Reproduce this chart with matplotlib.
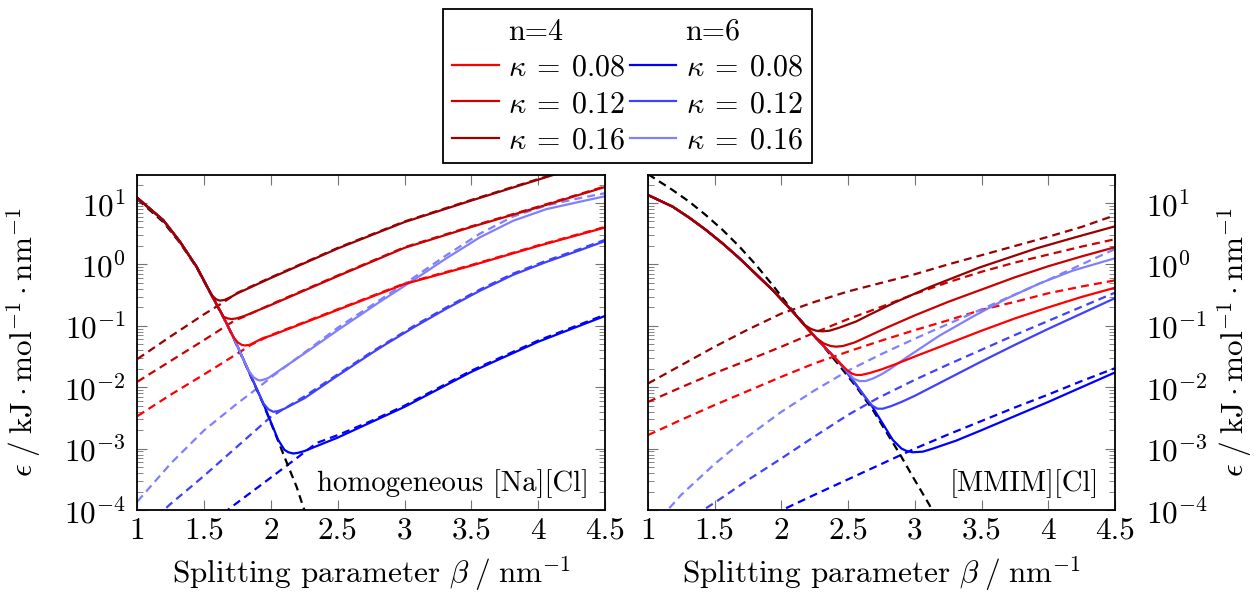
import numpy as np
import matplotlib
matplotlib.use("Agg")
import matplotlib.pyplot as plt
from matplotlib.lines import Line2D

plt.rcParams['font.family'] = 'cmr10'
plt.rcParams['mathtext.fontset'] = 'cm'
plt.rcParams['axes.formatter.use_mathtext'] = True
plt.rcParams['font.size'] = 22.5

# colours: n=4 reds, n=6 blues (kappa = 0.08, 0.12, 0.16)
c_r08, c_r12, c_r16 = '#ff0000', '#cc0000', '#990000'
c_b08, c_b12, c_b16 = '#0000ff', '#4040ff', '#8080ff'

# ---------------- homogeneous [Na][Cl] (log10 of epsilon) ----------------
na_real_b = [1.0, 1.193, 1.318, 1.443, 1.555, 1.642, 1.717, 1.829, 1.941, 2.054, 2.116, 2.191, 2.241, 2.30]
na_real_lg = [1.06, 0.69, 0.35, -0.05, -0.51, -0.86, -1.19, -1.73, -2.27, -2.88, -3.22, -3.62, -3.95, -4.3]

# dashed estimates
na_r16_est_b = [1.0, 1.25, 1.5, 1.642, 1.75, 2.0, 2.5, 3.0, 3.5, 4.0, 4.5]
na_r16_est_lg = [-1.54, -1.17, -0.81, -0.62, -0.46, -0.21, 0.27, 0.70, 1.05, 1.39, 1.72]
na_r12_est_b = [1.0, 1.25, 1.5, 1.73, 1.8, 2.0, 2.5, 3.0, 3.5, 4.0, 4.5]
na_r12_est_lg = [-1.91, -1.57, -1.23, -0.91, -0.85, -0.65, -0.18, 0.28, 0.62, 0.94, 1.27]
na_r08_est_b = [1.0, 1.25, 1.5, 1.75, 1.85, 2.0, 2.5, 3.0, 3.5, 4.0, 4.5]
na_r08_est_lg = [-2.47, -2.12, -1.79, -1.45, -1.31, -1.15, -0.73, -0.31, -0.01, 0.31, 0.61]
na_b16_est_b = [1.0, 1.25, 1.5, 1.75, 1.92, 2.0, 2.5, 2.814, 3.064, 3.313, 3.563, 3.812, 4.061, 4.311, 4.5]
na_b16_est_lg = [-3.86, -3.24, -2.70, -2.26, -1.98, -1.84, -1.03, -0.58, -0.22, 0.15, 0.50, 0.78, 0.96, 1.08, 1.16]
na_b12_est_b = [1.0, 1.243, 1.5, 1.75, 2.0, 2.25, 2.5, 2.75, 3.064, 3.313, 3.563, 3.812, 4.061, 4.311, 4.5]
na_b12_est_lg = [-4.4, -3.91, -3.44, -2.96, -2.48, -2.15, -1.79, -1.43, -1.01, -0.70, -0.41, -0.15, 0.06, 0.25, 0.40]
na_b08_est_b = [1.5, 1.692, 2.0, 2.25, 2.34, 2.5, 2.75, 3.0, 3.5, 4.0, 4.5]
na_b08_est_lg = [-4.35, -3.97, -3.47, -3.06, -2.91, -2.78, -2.55, -2.30, -1.73, -1.24, -0.82]

# solid totals
na_r16_b = [1.0, 1.193, 1.318, 1.443, 1.52, 1.56, 1.59, 1.617, 1.65, 1.70, 1.75, 2.0, 2.5, 3.0, 3.5, 4.0, 4.5]
na_r16_lg = [1.08, 0.72, 0.37, -0.04, -0.36, -0.51, -0.57, -0.59, -0.58, -0.53, -0.47, -0.22, 0.26, 0.69, 1.04, 1.38, 1.72]
na_r12_b = [1.0, 1.193, 1.318, 1.443, 1.555, 1.642, 1.675, 1.705, 1.74, 1.80, 2.0, 2.5, 3.0, 3.5, 4.0, 4.5]
na_r12_lg = [1.08, 0.72, 0.37, -0.04, -0.50, -0.85, -0.88, -0.89, -0.88, -0.84, -0.66, -0.19, 0.27, 0.61, 0.93, 1.26]
na_r08_b = [1.0, 1.193, 1.318, 1.443, 1.555, 1.642, 1.717, 1.75, 1.78, 1.804, 1.84, 1.94, 2.0, 2.5, 3.0, 3.5, 4.0, 4.5]
na_r08_lg = [1.08, 0.72, 0.37, -0.04, -0.50, -0.85, -1.18, -1.27, -1.31, -1.32, -1.31, -1.20, -1.16, -0.74, -0.32, -0.02, 0.30, 0.60]
na_b16_b = [1.0, 1.193, 1.318, 1.443, 1.555, 1.642, 1.717, 1.829, 1.87, 1.90, 1.917, 1.94, 1.98, 2.0, 2.25, 2.5,
            2.814, 3.064, 3.313, 3.563, 3.812, 4.061, 4.311, 4.5]
na_b16_lg = [1.08, 0.72, 0.37, -0.04, -0.50, -0.85, -1.18, -1.72, -1.84, -1.88, -1.89, -1.88, -1.85, -1.82, -1.45, -1.07,
             -0.61, -0.26, 0.10, 0.44, 0.71, 0.90, 1.02, 1.11]
na_b12_b = [1.0, 1.193, 1.318, 1.443, 1.555, 1.642, 1.717, 1.829, 1.941, 1.98, 2.016, 2.05, 2.10, 2.25, 2.5, 2.75,
            2.852, 3.064, 3.313, 3.563, 3.812, 4.061, 4.311, 4.5]
na_b12_lg = [1.08, 0.72, 0.37, -0.04, -0.50, -0.85, -1.18, -1.72, -2.26, -2.36, -2.40, -2.39, -2.35, -2.18, -1.81, -1.45,
             -1.31, -1.03, -0.72, -0.43, -0.17, 0.04, 0.23, 0.38]
na_b08_b = [1.0, 1.193, 1.318, 1.443, 1.555, 1.642, 1.717, 1.829, 1.941, 2.054, 2.10, 2.13, 2.166, 2.20, 2.25, 2.5,
            2.75, 3.0, 3.5, 4.0, 4.5]
na_b08_lg = [1.08, 0.72, 0.37, -0.04, -0.50, -0.85, -1.18, -1.72, -2.26, -2.86, -3.02, -3.06, -3.08, -3.07, -3.04, -2.82,
             -2.57, -2.32, -1.75, -1.26, -0.84]

# ---------------- [MMIM][Cl] ----------------
mm_real_b = [1.0, 1.185, 1.31, 1.435, 1.56, 1.685, 1.81, 1.935, 2.06, 2.185, 2.2975, 2.435, 2.56, 2.685, 2.80,
             2.885, 2.985, 3.11, 3.15]
mm_real_lg = [1.47, 1.21, 1.02, 0.80, 0.56, 0.29, -0.01, -0.34, -0.69, -1.01, -1.29, -1.65, -1.99, -2.37, -2.78,
              -3.08, -3.46, -3.92, -4.1]

grid_b = [1.0, 1.25, 1.5, 1.75, 2.0, 2.25, 2.5, 2.75, 3.0, 3.25, 3.5, 3.75, 4.0, 4.25, 4.5]
mm_r16_est_lg = [-1.94, -1.64, -1.34, -1.06, -0.80, -0.61, -0.44, -0.30, -0.16, 0.00, 0.15, 0.30, 0.45, 0.61, 0.80]
mm_r12_est_lg = [-2.24, -2.00, -1.77, -1.56, -1.34, -1.11, -0.89, -0.69, -0.48, -0.29, -0.12, 0.03, 0.16, 0.29, 0.41]
mm_r08_est_lg = [-2.78, -2.53, -2.29, -2.06, -1.83, -1.61, -1.42, -1.24, -1.07, -0.91, -0.74, -0.61, -0.47, -0.36, -0.26]
mm_b16_est_b = [1.16, 1.25, 1.5, 1.75, 2.0, 2.25, 2.5, 2.75, 3.0, 3.25, 3.5, 3.75, 4.0, 4.25, 4.5]
mm_b16_est_lg = [-3.97, -3.75, -3.25, -2.80, -2.40, -2.05, -1.73, -1.46, -1.21, -0.97, -0.73, -0.49, -0.25, 0.00, 0.25]
mm_b12_est_b = [1.435, 1.5, 1.75, 2.0, 2.25, 2.5, 2.72, 3.0, 3.25, 3.5, 3.75, 4.0, 4.25, 4.5]
mm_b12_est_lg = [-3.97, -3.88, -3.51, -3.16, -2.80, -2.45, -2.18, -1.88, -1.63, -1.39, -1.15, -0.92, -0.69, -0.46]
mm_b08_est_b = [2.035, 2.25, 2.5, 2.75, 3.0, 3.25, 3.5, 3.75, 4.0, 4.25, 4.5]
mm_b08_est_lg = [-3.97, -3.75, -3.50, -3.25, -3.00, -2.77, -2.55, -2.33, -2.12, -1.90, -1.69]

# measured errors follow the same descent at small beta
mm_desc_b = [1.0, 1.185, 1.31, 1.435, 1.56, 1.685, 1.81, 1.935, 2.085]
mm_desc_lg = [1.13, 0.94, 0.76, 0.56, 0.34, 0.10, -0.16, -0.42, -0.77]

mm_r16_b = mm_desc_b + [2.17, 2.22, 2.26, 2.31, 2.36, 2.435, 2.56, 2.66, 2.85, 3.11, 3.485, 3.91, 4.2, 4.5]
mm_r16_lg = mm_desc_lg + [-0.98, -1.05, -1.08, -1.09, -1.08, -1.03, -0.93, -0.82, -0.62, -0.37, -0.05, 0.26, 0.44, 0.62]
mm_r12_b = mm_desc_b + [2.20, 2.26, 2.32, 2.37, 2.41, 2.46, 2.55, 2.66, 2.8, 3.0, 3.25, 3.5, 3.75, 4.0, 4.25, 4.5]
mm_r12_lg = mm_desc_lg + [-1.06, -1.20, -1.29, -1.33, -1.34, -1.33, -1.27, -1.16, -1.02, -0.83, -0.61, -0.41, -0.21,
                          -0.03, 0.13, 0.28]
mm_r08_b = mm_desc_b + [2.26, 2.435, 2.49, 2.53, 2.56, 2.60, 2.66, 2.75, 2.85, 3.0, 3.25, 3.5, 3.75, 4.0, 4.25, 4.5]
mm_r08_lg = mm_desc_lg + [-1.20, -1.60, -1.72, -1.78, -1.80, -1.80, -1.77, -1.71, -1.63, -1.50, -1.29, -1.08, -0.88,
                          -0.70, -0.53, -0.38]
mm_b16_b = mm_desc_b + [2.26, 2.435, 2.50, 2.54, 2.585, 2.63, 2.685, 2.75, 2.81, 2.935, 3.185, 3.435, 3.685, 3.935,
                        4.185, 4.5]
mm_b16_lg = mm_desc_lg + [-1.20, -1.60, -1.76, -1.86, -1.90, -1.90, -1.86, -1.79, -1.71, -1.52, -1.16, -0.85, -0.56,
                          -0.31, -0.10, 0.10]
mm_b12_b = mm_desc_b + [2.26, 2.435, 2.56, 2.64, 2.68, 2.72, 2.76, 2.82, 2.9, 3.0, 3.25, 3.5, 3.75, 4.0, 4.25, 4.5]
mm_b12_lg = mm_desc_lg + [-1.20, -1.60, -1.96, -2.20, -2.30, -2.35, -2.35, -2.31, -2.24, -2.14, -1.86, -1.58, -1.31,
                          -1.05, -0.80, -0.55]
mm_b08_b = mm_desc_b + [2.26, 2.435, 2.56, 2.685, 2.835, 2.90, 2.94, 2.985, 3.06, 3.135, 3.31, 3.5, 3.75, 4.0, 4.25,
                        4.5]
mm_b08_lg = mm_desc_lg + [-1.20, -1.60, -1.96, -2.33, -2.86, -3.00, -3.04, -3.06, -3.05, -3.00, -2.87, -2.70, -2.47,
                          -2.24, -2.00, -1.76]

kappa_labels = [r'$\kappa\:=\:0.08$', r'$\kappa\:=\:0.12$', r'$\kappa\:=\:0.16$']

DASH = (3.6, 2.3)
LW = 1.6

fig = plt.figure(figsize=(12.59, 5.96), dpi=100)
axL = fig.add_axes([0.1092, 0.1443, 0.3713, 0.5621])
axR = fig.add_axes([0.5147, 0.1443, 0.3709, 0.5621])


def draw(ax, real, est, tot):
    for (b, lg, c) in est:
        ax.plot(b, 10 ** np.array(lg), color=c, lw=LW, dashes=DASH)
    ax.plot(real[0], 10 ** np.array(real[1]), color='k', lw=LW, dashes=DASH)
    for (b, lg, c) in tot:
        ax.plot(b, 10 ** np.array(lg), color=c, lw=LW, solid_joinstyle='round')


draw(axL, (na_real_b, na_real_lg),
     [(na_r16_est_b, na_r16_est_lg, c_r16), (na_r12_est_b, na_r12_est_lg, c_r12),
      (na_r08_est_b, na_r08_est_lg, c_r08), (na_b16_est_b, na_b16_est_lg, c_b16),
      (na_b12_est_b, na_b12_est_lg, c_b12), (na_b08_est_b, na_b08_est_lg, c_b08)],
     [(na_b08_b, na_b08_lg, c_b08), (na_b12_b, na_b12_lg, c_b12), (na_b16_b, na_b16_lg, c_b16),
      (na_r08_b, na_r08_lg, c_r08), (na_r12_b, na_r12_lg, c_r12), (na_r16_b, na_r16_lg, c_r16)])

draw(axR, (mm_real_b, mm_real_lg),
     [(grid_b, mm_r16_est_lg, c_r16), (grid_b, mm_r12_est_lg, c_r12),
      (grid_b, mm_r08_est_lg, c_r08), (mm_b16_est_b, mm_b16_est_lg, c_b16),
      (mm_b12_est_b, mm_b12_est_lg, c_b12), (mm_b08_est_b, mm_b08_est_lg, c_b08)],
     [(mm_b08_b, mm_b08_lg, c_b08), (mm_b12_b, mm_b12_lg, c_b12), (mm_b16_b, mm_b16_lg, c_b16),
      (mm_r08_b, mm_r08_lg, c_r08), (mm_r12_b, mm_r12_lg, c_r12), (mm_r16_b, mm_r16_lg, c_r16)])

ylab = r'$\epsilon\;/\;\mathrm{kJ}\cdot\mathrm{mol}^{-1}\cdot\mathrm{nm}^{-1}$'
xlab = r'Splitting parameter $\beta\;/\;\mathrm{nm}^{-1}$'

for ax in (axL, axR):
    ax.set_yscale('log')
    ax.set_xlim(1, 4.5)
    ax.set_ylim(1e-4, 28.6)
    ax.set_xticks([1, 1.5, 2, 2.5, 3, 3.5, 4, 4.5])
    ax.set_xticklabels(['1', '1.5', '2', '2.5', '3', '3.5', '4', '4.5'])
    ax.set_yticks([1e-4, 1e-3, 1e-2, 1e-1, 1e0, 1e1])
    ax.tick_params(which='both', direction='in', top=True, right=True, color='0.45')
    ax.tick_params(which='major', length=7, width=0.8)
    ax.tick_params(which='minor', length=4, width=0.6)
    ax.tick_params(axis='x', pad=5)
    for s in ax.spines.values():
        s.set_linewidth(1.3)
    ax.set_xlabel(xlab, labelpad=7)

axL.tick_params(axis='y', pad=8.5)
axL.set_ylabel(ylab, labelpad=14)
axR.tick_params(axis='y', labelleft=False, labelright=True, pad=22)
axR.yaxis.set_label_position('right')
axR.set_ylabel(ylab, labelpad=6)

axL.text(0.965, 0.035, 'homogeneous [Na][Cl]', transform=axL.transAxes, ha='right', va='bottom', fontsize=20.7)
axR.text(0.965, 0.035, '[MMIM][Cl]', transform=axR.transAxes, ha='right', va='bottom', fontsize=20.7)

blank = Line2D([], [], color='none')
handles = [blank, Line2D([], [], color=c_r08, lw=LW), Line2D([], [], color=c_r12, lw=LW),
           Line2D([], [], color=c_r16, lw=LW),
           blank, Line2D([], [], color=c_b08, lw=LW), Line2D([], [], color=c_b12, lw=LW),
           Line2D([], [], color=c_b16, lw=LW)]
labels = ['n=4'] + kappa_labels + ['n=6'] + kappa_labels
leg = fig.legend(handles, labels, ncol=2, loc='upper center', bbox_to_anchor=(0.4984, 0.985),
                 frameon=True, fancybox=False, edgecolor='k', framealpha=1, fontsize=21.7,
                 handlelength=1.55, handletextpad=0.3, columnspacing=0.15, labelspacing=0.27,
                 borderpad=0.3, borderaxespad=0.0)
leg.get_frame().set_linewidth(1.3)

fig.savefig('out.png', dpi=100)
